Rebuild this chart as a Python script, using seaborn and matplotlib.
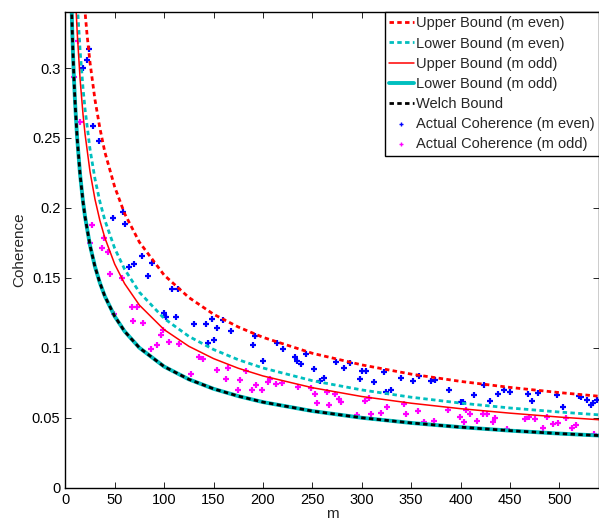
import matplotlib
matplotlib.use("Agg")
import matplotlib.pyplot as plt
import numpy as np
import pandas as pd
import seaborn as sns

# bound curves, values
m_ue = [15, 18, 20, 22, 25, 30, 35, 40, 50, 60, 75, 100, 125, 150, 175, 200, 250, 300, 350, 400, 450, 500, 540]
upper_even = [0.392, 0.358, 0.340, 0.324, 0.304, 0.2775, 0.257, 0.240, 0.215, 0.196, 0.1755, 0.152, 0.136, 0.124,
              0.1149, 0.1075, 0.0961, 0.0878, 0.0812, 0.076, 0.0717, 0.068, 0.0654]

m_le = [10, 12, 13, 15, 18, 20, 25, 30, 35, 40, 50, 60, 75, 100, 125, 150, 175, 200, 250, 300, 350, 400, 450, 500, 540]
lower_even = [0.383, 0.349, 0.3356, 0.3124, 0.285, 0.2706, 0.242, 0.2209, 0.2045, 0.1913, 0.1711, 0.1562, 0.1397,
              0.121, 0.1082, 0.0988, 0.0915, 0.0856, 0.0765, 0.0699, 0.0647, 0.0605, 0.057, 0.0541, 0.0521]

m_uo = [9, 10, 11, 12, 15, 18, 20, 25, 30, 35, 40, 50, 60, 75, 100, 125, 150, 175, 200, 250, 300, 350, 400, 450, 500, 540]
upper_odd = [0.377, 0.357, 0.3407, 0.326, 0.2918, 0.2663, 0.2527, 0.226, 0.2063, 0.191, 0.1787, 0.1598, 0.1459,
             0.1305, 0.113, 0.1011, 0.0923, 0.0854, 0.0799, 0.0715, 0.0652, 0.0604, 0.0565, 0.0533, 0.0505, 0.0486]

m_w = [6, 7, 8, 9, 10, 12, 15, 18, 20, 25, 30, 35, 40, 50, 60, 75, 100, 125, 150, 175, 200, 250, 300, 350, 400, 450, 500, 540]
welch = [0.3535, 0.3273, 0.3062, 0.2887, 0.2739, 0.25, 0.2236, 0.2041, 0.1936, 0.1732, 0.1581, 0.1464, 0.1369,
         0.1225, 0.1118, 0.1, 0.0866, 0.0775, 0.0707, 0.0655, 0.0612, 0.0548, 0.05, 0.0463, 0.0433, 0.0408, 0.0387, 0.0373]
lower_odd = list(welch)

# actual coherence, m even
m_even = [18, 22, 24, 28, 34, 48, 58, 60, 64, 70, 78, 84, 88, 100, 102, 108, 112, 114, 130, 142, 144, 148, 150, 154,
          160, 168, 190, 192, 200, 214, 220, 232, 234, 238, 244, 252, 258, 262, 274, 282, 288, 298, 300, 304, 312,
          322, 324, 330, 340, 352, 358, 370, 374, 388, 400, 402, 414, 424, 430, 438, 444, 450, 468, 472, 478, 498,
          504, 520, 522, 528, 532, 534, 538]
c_even = [0.2998, 0.306, 0.3136, 0.2588, 0.2481, 0.1926, 0.1969, 0.1886, 0.1576, 0.160, 0.1655, 0.1517, 0.1607,
          0.125, 0.1219, 0.1421, 0.1219, 0.1421, 0.1171, 0.1171, 0.1034, 0.1207, 0.1057, 0.1143, 0.120, 0.1119,
          0.1017, 0.1081, 0.0903, 0.1038, 0.0993, 0.0931, 0.0905, 0.0881, 0.0953, 0.0848, 0.0762, 0.0786, 0.0896,
          0.0855, 0.0889, 0.0779, 0.0834, 0.0834, 0.0753, 0.0826, 0.0681, 0.0698, 0.0786, 0.076, 0.0796, 0.0764,
          0.0769, 0.07, 0.0614, 0.061, 0.066, 0.0736, 0.0619, 0.0667, 0.0698, 0.0681, 0.0669, 0.0621, 0.0679,
          0.0664, 0.0574, 0.0657, 0.0647, 0.0626, 0.0589, 0.0607, 0.0626]

# actual coherence, m odd
m_odd = [9, 13, 15, 25, 27, 37, 39, 43, 45, 49, 57, 67, 69, 73, 79, 87, 93, 97, 99, 105, 115, 127, 135, 139, 153,
         163, 165, 175, 177, 183, 189, 193, 199, 205, 207, 213, 219, 235, 249, 253, 255, 265, 267, 273, 277, 279,
         295, 303, 307, 309, 319, 325, 343, 345, 357, 363, 373, 387, 399, 403, 405, 409, 417, 423, 427, 433, 435,
         447, 465, 469, 475, 483, 487, 493, 499, 507, 513, 517, 535]
c_odd = [0.2938, 0.3196, 0.2617, 0.1748, 0.1881, 0.1714, 0.1784, 0.1684, 0.1529, 0.1243, 0.15, 0.1291, 0.1195,
         0.1291, 0.1176, 0.0993, 0.1017, 0.1093, 0.1129, 0.1041, 0.1029, 0.0814, 0.0938, 0.0921, 0.0838, 0.0779,
         0.0857, 0.0696, 0.0771, 0.0834, 0.0696, 0.0736, 0.0698, 0.0757, 0.0776, 0.0738, 0.075, 0.0717, 0.071,
         0.0667, 0.0605, 0.0686, 0.0591, 0.0671, 0.0634, 0.061, 0.0521, 0.0619, 0.0643, 0.0529, 0.0536, 0.0576,
         0.06, 0.0526, 0.0548, 0.0469, 0.0479, 0.0557, 0.0503, 0.0471, 0.0553, 0.0526, 0.0476, 0.0526, 0.0524,
         0.0467, 0.05, 0.0421, 0.0491, 0.0507, 0.0491, 0.0429, 0.0507, 0.0457, 0.0462, 0.0496, 0.0424, 0.0446, 0.0384]

sns.set_style("ticks")
plt.rcParams["font.family"] = ["Liberation Sans", "DejaVu Sans"]
plt.rcParams["font.size"] = 10.5

fig = plt.figure(figsize=(5.99, 5.25), dpi=100)
ax = fig.add_axes([0.109, 0.071, 0.891, 0.906])

teal = "#00bfbf"
sns.lineplot(x=m_ue, y=upper_even, ax=ax, color="red", lw=2, label="Upper Bound (m even)")
sns.lineplot(x=m_le, y=lower_even, ax=ax, color=teal, lw=2, label="Lower Bound (m even)")
sns.lineplot(x=m_uo, y=upper_odd, ax=ax, color="red", lw=1.1, label="Upper Bound (m odd)")
sns.lineplot(x=m_w, y=lower_odd, ax=ax, color=teal, lw=2.8, label="Lower Bound (m odd)")
sns.lineplot(x=m_w, y=welch, ax=ax, color="black", lw=2, label="Welch Bound")
ax.lines[0].set_dashes((1.6, 1.2))
ax.lines[1].set_dashes((1.6, 1.2))
ax.lines[4].set_dashes((1.6, 1.2))

sns.scatterplot(x=m_even, y=c_even, ax=ax, marker="+", color="blue", s=22, linewidth=1.6,
                label="Actual Coherence (m even)")
sns.scatterplot(x=m_odd, y=c_odd, ax=ax, marker="+", color="magenta", s=22, linewidth=1.6,
                label="Actual Coherence (m odd)")

ax.set_xlim(0, 540)
ax.set_ylim(0, 0.34)
ax.set_xticks(np.arange(0, 501, 50))
ax.set_yticks([0, 0.05, 0.1, 0.15, 0.2, 0.25, 0.3])
ax.set_yticklabels(["0", "0.05", "0.1", "0.15", "0.2", "0.25", "0.3"])
ax.tick_params(direction="in", top=True, right=True, length=4, width=0.6, labelsize=10.5, colors="black")
for sp in ax.spines.values():
    sp.set_linewidth(1.0)
    sp.set_color("black")
ax.set_xlabel("m", fontsize=11, labelpad=0)
ax.set_ylabel("Coherence", fontsize=11, labelpad=4)

leg = ax.legend(loc="upper right", frameon=True, fancybox=False, fontsize=10.5, handlelength=1.7,
                handletextpad=0.15, borderpad=0.3, labelspacing=0.42, borderaxespad=0, markerscale=1.0)
leg.get_frame().set_edgecolor("black")
leg.get_frame().set_linewidth(1.0)
leg.get_frame().set_alpha(1)
for h in leg.legend_handles[5:]:
    h.set_sizes([12])
    h.set_linewidth(1.0)

fig.savefig("out.png", dpi=100)
